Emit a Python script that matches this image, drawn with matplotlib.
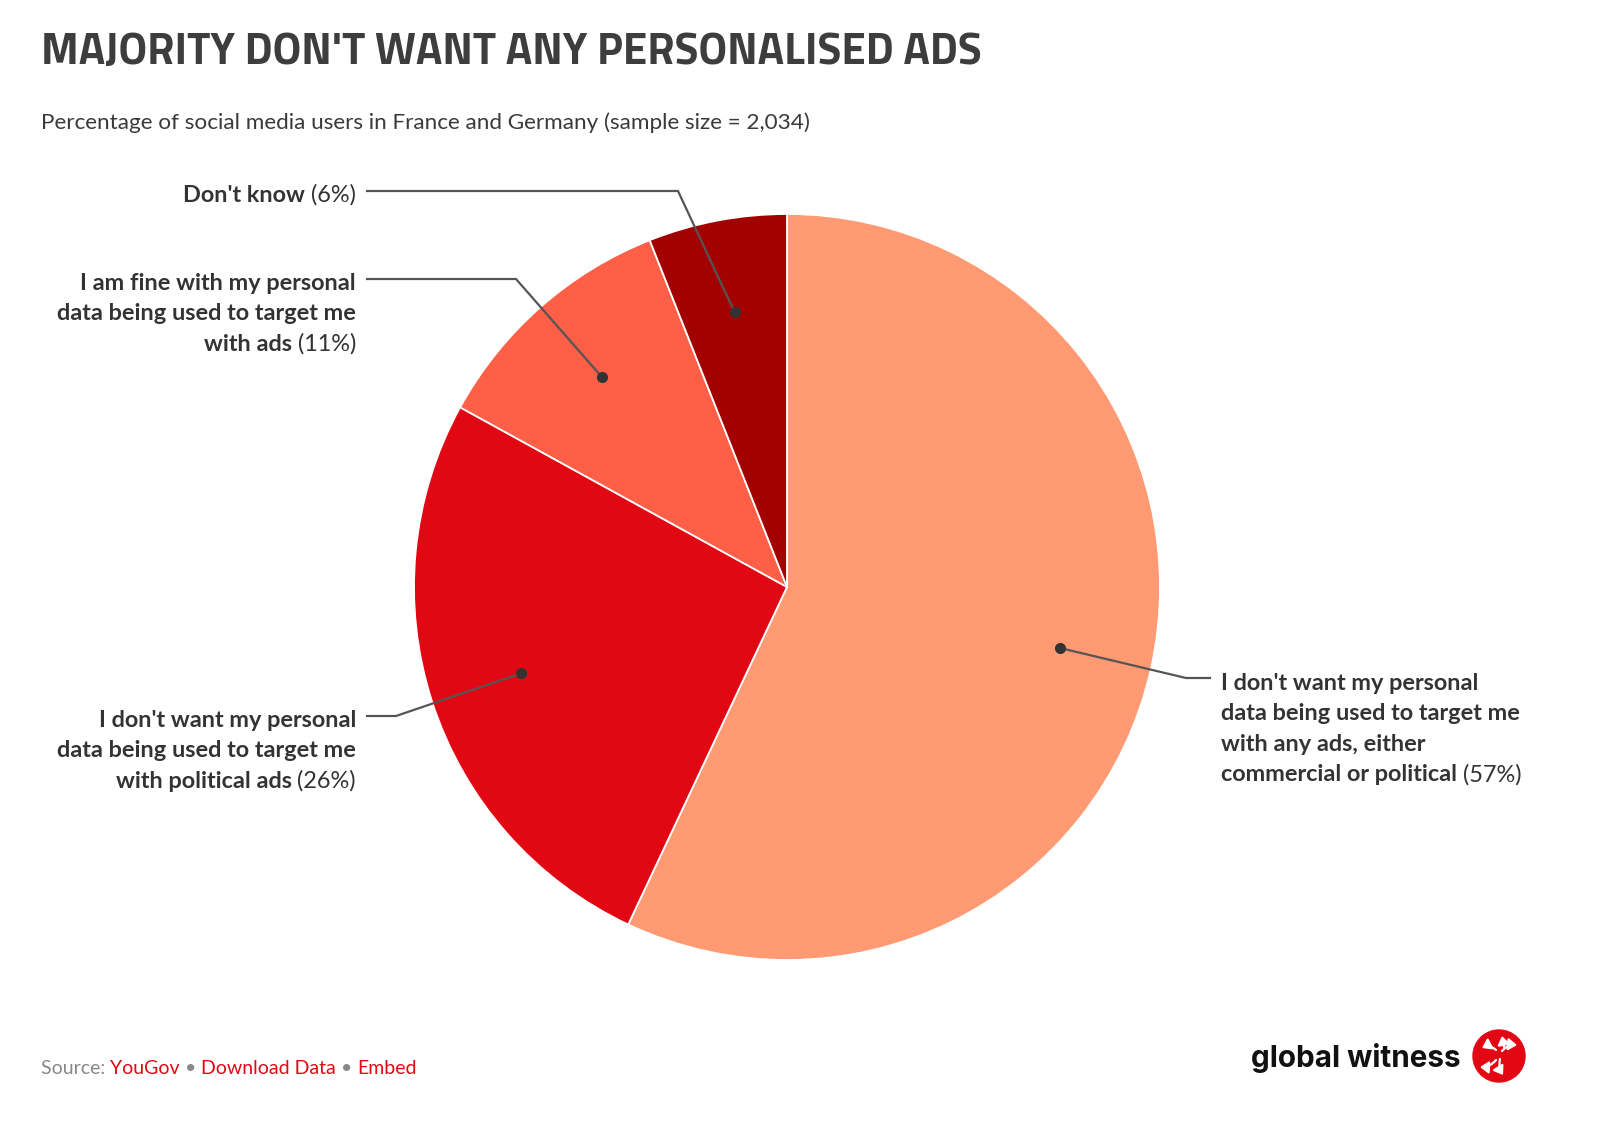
import matplotlib
matplotlib.use('Agg')
import matplotlib.pyplot as plt
from matplotlib import font_manager
from matplotlib.patches import Circle, FancyArrowPatch
import numpy as np

# ---------------- data ----------------
categories = [
    "I don't want my personal data being used to target me with any ads, either commercial or political",
    "I don't want my personal data being used to target me with political ads",
    "I am fine with my personal data being used to target me with ads",
    "Don't know",
]
values = [57, 26, 11, 6]
pct_labels = ["(57%)", "(26%)", "(11%)", "(6%)"]
label_lines = [
    ["I don't want my personal", "data being used to target me", "with any ads, either", "commercial or political"],
    ["I don't want my personal", "data being used to target me", "with political ads"],
    ["I am fine with my personal", "data being used to target me", "with ads"],
    ["Don't know"],
]
colors = ["#FF9A73", "#E10814", "#FF5E47", "#A30000"]

title = "MAJORITY DON'T WANT ANY PERSONALISED ADS"
subtitle = "Percentage of social media users in France and Germany (sample size = 2,034)"

# ---------------- fonts ----------------
def weights_of(name):
    ws = set()
    for f in font_manager.fontManager.ttflist:
        if f.name == name:
            w = f.weight
            if isinstance(w, str):
                w = font_manager.weight_dict.get(w, 400)
            ws.add(int(w))
    return ws

def pick(names, need):
    lo, hi = need
    for n in names:
        if any(lo <= w <= hi for w in weights_of(n)):
            return n
    return "DejaVu Sans"

title_font = pick(["Titillium Web", "Liberation Sans Narrow", "Roboto"], (600, 900))
bold_font = pick(["Source Sans Pro", "Source Sans 3", "Lato", "Open Sans", "Noto Sans"], (600, 800))
reg_font = pick(["Source Sans Pro", "Source Sans 3", "Lato", "Open Sans", "Noto Sans"], (380, 450))
logo_font = pick(["Inter", "Roboto", "Liberation Sans"], (600, 800))

W, H = 1618, 1138
fig = plt.figure(figsize=(W / 100, H / 100), dpi=100)
fig.patch.set_facecolor("white")

# pie axes: centre (787, 587) px, radius 373 px
cx, cy, R = 787, 587, 373
ax = fig.add_axes([(cx - R) / W, (H - cy - R) / H, 2 * R / W, 2 * R / H])
wedges, _ = ax.pie(values, colors=colors, startangle=90, counterclock=False, radius=1,
                   wedgeprops=dict(edgecolor="white", linewidth=1.3))
ax.set_xlim(-1, 1)
ax.set_ylim(-1, 1)
ax.set_aspect("equal")
ax.axis("off")

ov = fig.add_axes([0, 0, 1, 1], zorder=5)
ov.set_xlim(0, W)
ov.set_ylim(H, 0)
ov.axis("off")

renderer = fig.canvas.get_renderer()

def width_of(t):
    return t.get_window_extent(renderer).width

def measure(text, family, weight, size):
    t = ov.text(0, -100, text, family=family, weight=weight, fontsize=size)
    w = width_of(t)
    t.remove()
    return w

def fit_size(text, family, weight, target, start=20):
    return start * target / measure(text, family, weight, start)

# ---------------- title / subtitle ----------------
ts = fit_size(title, title_font, "bold", 941, 30)
ov.text(41, 53, title, family=title_font, weight="bold", fontsize=ts, color="#3D3D3D",
        ha="left", va="center")
ss = fit_size(subtitle, reg_font, "normal", 771, 14)
ov.text(41, 123, subtitle, family=reg_font, fontsize=ss, color="#3A3A3A", ha="left", va="center")

# ---------------- labels ----------------
ls = fit_size("data being used to target me", bold_font, "bold", 300, 15)
line_gap = 30.5
# layout per slice: (side, elbow_x, elbow_y, end_x, text_x, first_line_y)
layout = [
    ("right", 1186, 678, 1210, 1221, 683),
    ("left", 396, 716, 367, 356, 720),
    ("left", 516, 279, 367, 356, 283),
    ("left", 678, 191, 367, 356, 195),
]
txt_col = "#333333"
space = measure("a b", bold_font, "bold", ls) - measure("ab", bold_font, "bold", ls)
for w, lines, pct, lay in zip(wedges, label_lines, pct_labels, layout):
    side, ex, ey, endx, tx, ty = lay
    mid = np.deg2rad((w.theta1 + w.theta2) / 2)
    d = ax.transData.transform((0.75 * np.cos(mid), 0.75 * np.sin(mid)))
    dx, dy = ov.transData.inverted().transform(d)
    ov.plot([dx, ex, endx], [dy, ey, ey], color="#555555", lw=1.6, solid_joinstyle="miter")
    ov.plot([dx], [dy], "o", ms=7, color="#333333")
    n = len(lines)
    for i, ln in enumerate(lines):
        y = ty + i * line_gap
        last = i == n - 1
        if side == "left":
            if last:
                tr = ov.text(tx, y, pct, family=reg_font, fontsize=ls, color=txt_col,
                             ha="right", va="center")
                wr = width_of(tr)
                ov.text(tx - wr - space, y, ln, family=bold_font, weight="bold", fontsize=ls,
                        color=txt_col, ha="right", va="center")
            else:
                ov.text(tx, y, ln, family=bold_font, weight="bold", fontsize=ls, color=txt_col,
                        ha="right", va="center")
        else:
            tb = ov.text(tx, y, ln, family=bold_font, weight="bold", fontsize=ls, color=txt_col,
                         ha="left", va="center")
            if last:
                wb = width_of(tb)
                ov.text(tx + wb + space, y, pct, family=reg_font, fontsize=ls, color=txt_col,
                        ha="left", va="center")

# ---------------- footer ----------------
parts = [("Source: ", "#888888"), ("YouGov", "#E10814"), (" \u2022 ", "#888888"),
         ("Download Data", "#E10814"), (" \u2022 ", "#888888"), ("Embed", "#E10814")]
full = "".join(p for p, _ in parts)
fs = fit_size(full, reg_font, "normal", 378, 14)
prefix = ""
for p, c in parts:
    x0 = 41 + (measure(prefix + "|", reg_font, "normal", fs) - measure("|", reg_font, "normal", fs)
               if prefix else 0)
    ov.text(x0, 1069, p, family=reg_font, fontsize=fs, color=c, ha="left", va="center")
    prefix += p

# ---------------- logo ----------------
lf = fit_size("global witness", logo_font, "bold", 210, 20)
ov.text(1251, 1058, "global witness", family=logo_font, weight="bold", fontsize=lf,
        color="#111111", ha="left", va="center")
lcx, lcy, lr = 1499, 1056, 26
ov.add_patch(Circle((lcx, lcy), lr, color="#E30613", zorder=6))
arrows = [((lcx - 3, lcy - 6), (lcx - 17, lcy - 8), 0.35),
          ((lcx + 3, lcy - 5), (lcx + 18, lcy - 11), -0.25),
          ((lcx + 1, lcy + 3), (lcx + 4, lcy + 19), 0.2),
          ((lcx - 3, lcy + 4), (lcx - 19, lcy + 11), -0.25),
          ((lcx + 5, lcy - 9), (lcx + 3, lcy - 20), 0.0)]
for a, b, rad in arrows:
    ov.add_patch(FancyArrowPatch(a, b, arrowstyle="-|>,head_length=0.5,head_width=0.35",
                                 mutation_scale=10, color="white", lw=1.6,
                                 connectionstyle=f"arc3,rad={rad}", zorder=7,
                                 shrinkA=0, shrinkB=0))

fig.savefig("out.png", dpi=100, facecolor="white")
